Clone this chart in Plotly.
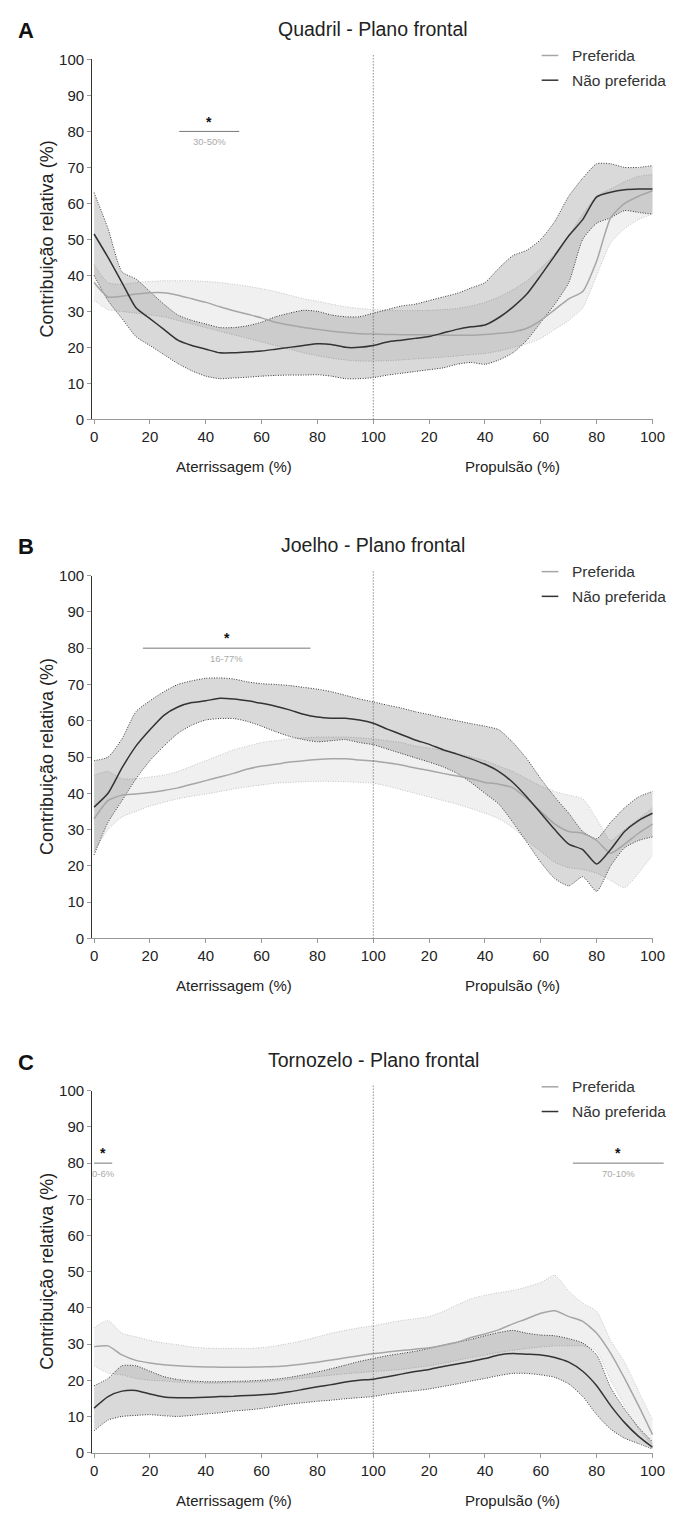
import plotly.graph_objects as go

W, H = 682, 1519
FONT = "Liberation Sans, Arial, Helvetica, sans-serif"

# ---------------- data ----------------
X = list(range(0, 201, 5))  # 0-100 landing, 100-200 propulsion
X_TICKVALS = list(range(0, 201, 20))
X_TICKTEXT = ["0", "20", "40", "60", "80", "100", "20", "40", "60", "80", "100"]
Y_TICKVALS = list(range(0, 101, 10))

SERIES = ["Preferida", "Não preferida"]
TITLES = ["Quadril - Plano frontal", "Joelho - Plano frontal", "Tornozelo - Plano frontal"]
LETTERS = ["A", "B", "C"]
PHASES = ["Aterrissagem (%)", "Propulsão (%)"]
Y_TITLE = "Contribuição relativa (%)"

# Panel A - Quadril
A_PREF_MEAN = [38, 34, 34.2, 34.8, 35.2, 35.2, 34.5, 33.5, 32.5, 31.3, 30.2, 29.2, 28.2, 27, 26.2, 25.5, 25,
               24.5, 24.1, 23.8, 23.7, 23.6, 23.5, 23.5, 23.5, 23.4, 23.4, 23.4, 23.6, 23.9, 24.3, 25.3,
               27.5, 30.5, 33.5, 35.5, 44, 56, 60, 62, 63.5]
A_PREF_UP = [43, 38, 37.5, 38, 38.3, 38.5, 38.5, 38.5, 38.3, 38, 37.5, 37, 36.3, 35.5, 34.5, 33.5, 32.8,
             32, 31.3, 30.8, 30.5, 30.3, 30.2, 30.2, 30.3, 30.5, 30.8, 31.5, 32.5, 34, 36, 38.5, 42, 46,
             51, 57, 62, 64, 66, 67.5, 68]
A_PREF_LO = [33, 30.5, 30, 29.5, 29, 28.5, 27.5, 26.5, 25.5, 24.5, 23.5, 22.5, 21.5, 20.5, 19.5, 18.5,
             17.7, 17, 16.5, 16.2, 16.2, 16.3, 16.5, 16.8, 17, 17.3, 17.6, 18, 18.3, 19, 20, 21, 22.5,
             25, 27.5, 31, 40, 49, 53, 55.5, 57]
A_NAO_MEAN = [51.5, 45, 38, 31, 28, 25, 22, 20.5, 19.5, 18.5, 18.5, 18.7, 19, 19.5, 20, 20.5, 21, 20.8,
              20, 20, 20.5, 21.5, 22, 22.5, 23, 24, 25, 25.7, 26.2, 28.3, 31.2, 34.8, 40, 45.5, 51,
              55.5, 61.8, 63.1, 63.8, 64, 64]
A_NAO_UP = [63, 53, 41, 39, 35.5, 32, 29, 27.5, 26.5, 25.5, 25.5, 26, 27, 28.5, 29.5, 30.3, 30, 29,
            28.5, 28.5, 29.5, 30.5, 31.5, 32, 33, 34, 35, 36.5, 38, 42, 45.5, 47, 50, 55, 62, 67, 71,
            71, 70, 70, 70.5]
A_NAO_LO = [40, 33, 28, 23, 20.5, 18, 15.5, 13.5, 12, 11.3, 11.5, 11.7, 12, 12.2, 12.3, 12.3, 12.4, 12,
            11.3, 11.3, 11.6, 12.3, 12.8, 13.3, 13.8, 14.3, 15.3, 15.8, 15.3, 16.5, 18.5, 22, 27, 32,
            38, 50, 54.5, 56, 58, 57.5, 57]

# Panel B - Joelho
B_PREF_MEAN = [33, 38, 39.5, 39.8, 40.2, 40.8, 41.5, 42.5, 43.5, 44.5, 45.5, 46.7, 47.5, 48, 48.6, 49,
               49.3, 49.5, 49.5, 49.2, 48.9, 48.4, 47.8, 47, 46.3, 45.5, 44.8, 44, 43, 42.5, 41.5,
               38.5, 35, 31.5, 29.5, 29, 27, 23.5, 26, 29, 31.5]
B_PREF_UP = [45, 46, 44, 44, 44.5, 45, 46, 47.5, 49, 50.5, 52, 53, 54, 54.5, 55, 55.3, 55.5, 55.5,
             55.5, 55.3, 55, 54.5, 54, 53, 52.5, 51.8, 51, 50, 49, 47.5, 46, 44, 42, 40.5, 39.5,
             38.5, 33, 27, 30, 33, 36]
B_PREF_LO = [24, 30, 33.5, 35, 36.5, 37.5, 38.5, 39.2, 39.8, 40.5, 41.2, 41.8, 42.3, 42.8, 43, 43.2,
             43.3, 43.3, 43.2, 43, 42.8, 42, 41, 40, 39, 38, 37, 35.8, 34.5, 33, 30.5, 27, 24, 21,
             19.5, 19, 18, 16, 14, 18, 23]
B_NAO_MEAN = [36.2, 40, 47, 53, 57.5, 61.5, 63.8, 65, 65.5, 66.2, 66, 65.5, 64.8, 64, 63, 61.8, 61,
              60.7, 60.7, 60.2, 59.3, 57.7, 56.2, 54.7, 53.5, 52, 50.8, 49.5, 48, 46, 43, 39, 34.5,
              30, 26, 24.5, 20.5, 24.5, 29.5, 32.5, 34.5]
B_NAO_UP = [49, 50, 55, 62.5, 65.5, 68, 70, 71, 71.7, 71.8, 71.5, 70.7, 70.2, 70, 69.7, 69.2, 68.7,
            68, 67, 66, 65.2, 64.3, 63.5, 62.5, 61.7, 60.8, 60, 59.2, 58.5, 57.5, 54, 49.5, 44, 39,
            34.5, 29.5, 27.5, 32, 36, 39, 40.5]
B_NAO_LO = [23, 32, 38, 44, 49, 53, 56.5, 58.8, 60.2, 60.6, 60.6, 59.8, 58.5, 57, 55.7, 54.8, 54.2,
            54.5, 54.8, 54, 53.4, 52.2, 51, 49.8, 48.6, 47.3, 45.5, 43, 40, 37, 32, 26.5, 21, 16.5,
            14.5, 17, 13, 20, 25, 27, 28]

# Panel C - Tornozelo
C_PREF_MEAN = [29.3, 29.5, 27, 25.5, 24.8, 24.3, 24, 23.8, 23.7, 23.6, 23.6, 23.6, 23.7, 23.8, 24.1,
               24.5, 25, 25.6, 26.2, 26.8, 27.4, 27.8, 28.2, 28.6, 29, 29.7, 30.5, 31.8, 32.8, 34,
               35.6, 37, 38.5, 39.2, 37.6, 36.3, 33, 27.5, 20.5, 13, 5]
C_PREF_UP = [34.5, 36.5, 33, 32, 31, 30.3, 29.8, 29.2, 28.9, 28.8, 28.8, 28.8, 29, 29.5, 30.2, 31, 32,
             33, 33.8, 34.5, 35.1, 35.8, 36.5, 37, 37.6, 39, 40.8, 42.5, 43.5, 44.2, 44.8, 45.8, 47,
             49, 44.6, 41.3, 39, 31, 25, 17, 9]
C_PREF_LO = [24, 22, 21.5, 20.5, 20, 19.8, 19.5, 19.3, 19.2, 19.2, 19.3, 19.4, 19.5, 19.8, 20.2, 20.6,
             21, 21.4, 21.8, 22.1, 22.4, 22.7, 23, 23.5, 24, 24.7, 25.5, 26.3, 27, 27.7, 28.3, 28.8,
             29.2, 29.5, 29.5, 29.5, 28, 20, 13, 6.5, 2]
C_NAO_MEAN = [12.3, 15.5, 17, 17.2, 16.2, 15.4, 15.2, 15.2, 15.3, 15.5, 15.6, 15.8, 16, 16.3, 16.8,
              17.5, 18.2, 18.8, 19.5, 20, 20.3, 21, 21.7, 22.4, 23, 23.8, 24.5, 25.2, 26, 27, 27.4,
              27.2, 27, 26.3, 25, 22.5, 18.5, 13, 8.3, 4.5, 1.5]
C_NAO_UP = [18.5, 20.5, 24, 24, 22.5, 21, 20.2, 19.8, 19.6, 19.6, 19.7, 19.8, 20, 20.3, 20.8, 21.5,
            22.3, 23.2, 24.2, 25.2, 26, 26.8, 27.4, 28, 28.8, 29.7, 30.5, 31.3, 32.3, 33.2, 33.8, 33,
            32.5, 32.3, 31.5, 30.3, 27, 18, 12, 7, 3]
C_NAO_LO = [6, 9, 10, 10.3, 10.5, 10.2, 10, 10.3, 10.7, 11, 11.5, 11.8, 12.2, 12.8, 13.4, 13.8, 14.2,
            14.5, 14.9, 15.2, 15.5, 16.2, 16.7, 17.1, 17.6, 18.3, 19, 19.8, 20.5, 21.3, 21.9, 21.9,
            21.5, 20.8, 19, 15.5, 10.5, 6.5, 4, 2.5, 1]

# significant intervals (start, end, label) per panel
SIG_A = [(30.5, 52, "30-50%")]
SIG_B = [(17.5, 77.5, "16-77%")]
SIG_C = [(0, 6.5, "0-6%"), (171.5, 204, "70-10%")]
SIG_LEVEL = 80

PANELS = [
    dict(pref=(A_PREF_MEAN, A_PREF_UP, A_PREF_LO), nao=(A_NAO_MEAN, A_NAO_UP, A_NAO_LO), sig=SIG_A),
    dict(pref=(B_PREF_MEAN, B_PREF_UP, B_PREF_LO), nao=(B_NAO_MEAN, B_NAO_UP, B_NAO_LO), sig=SIG_B),
    dict(pref=(C_PREF_MEAN, C_PREF_UP, C_PREF_LO), nao=(C_NAO_MEAN, C_NAO_UP, C_NAO_LO), sig=SIG_C),
]

# ---------------- style / geometry ----------------
PIX_TOP = [51, 573, 1094]   # pixel row of y=100
PIX_BOT = [415, 940, 1460]  # pixel row of y=0
X_PIX0, X_PIX1 = 92, 665
X_RANGE = [-0.7, 200.3]

PREF_LINE = "#a6a6a6"
NAO_LINE = "#333333"
PREF_FILL = "rgba(0,0,0,0.06)"
NAO_FILL = "rgba(0,0,0,0.15)"
PREF_EDGE = "#c4c4c4"
NAO_EDGE = "#3a3a3a"
EDGE_DASH = "1px,1.5px"


def xp(x):
    return (X_PIX0 + (x - X_RANGE[0]) * (X_PIX1 - X_PIX0) / (X_RANGE[1] - X_RANGE[0])) / W


def yp(pix):
    return 1 - pix / H


def ypix(i, y):
    return PIX_BOT[i] - y * (PIX_BOT[i] - PIX_TOP[i]) / 100.0


fig = go.Figure()
shapes, annotations = [], []

for i, p in enumerate(PANELS):
    xa = "x" if i == 0 else f"x{i + 1}"
    ya = "y" if i == 0 else f"y{i + 1}"
    for (mean, up, lo), edge, fill in ((p["pref"], PREF_EDGE, PREF_FILL), (p["nao"], NAO_EDGE, NAO_FILL)):
        fig.add_trace(go.Scatter(x=X, y=lo, mode="lines", xaxis=xa, yaxis=ya, showlegend=False,
                                 hoverinfo="skip",
                                 line=dict(color=edge, width=1, dash=EDGE_DASH, shape="spline", smoothing=0.6)))
        fig.add_trace(go.Scatter(x=X, y=up, mode="lines", xaxis=xa, yaxis=ya, showlegend=False,
                                 hoverinfo="skip", fill="tonexty", fillcolor=fill,
                                 line=dict(color=edge, width=1, dash=EDGE_DASH, shape="spline", smoothing=0.6)))
    for (mean, up, lo), col, name in ((p["pref"], PREF_LINE, SERIES[0]), (p["nao"], NAO_LINE, SERIES[1])):
        fig.add_trace(go.Scatter(x=X, y=mean, mode="lines", xaxis=xa, yaxis=ya, showlegend=False,
                                 name=name, line=dict(color=col, width=1.5, shape="spline", smoothing=0.6)))

    sfx = "" if i == 0 else str(i + 1)
    tickfont = dict(family=FONT, size=15, color="#222")
    fig.update_layout(**{
        f"xaxis{sfx}": dict(domain=[X_PIX0 / W, X_PIX1 / W], range=X_RANGE, anchor=ya,
                            tickmode="array", tickvals=X_TICKVALS, ticktext=X_TICKTEXT,
                            ticks="outside", ticklen=4, tickcolor="#999", showline=True,
                            linecolor="#999", linewidth=1, showgrid=False, zeroline=False,
                            tickfont=tickfont, fixedrange=True),
        f"yaxis{sfx}": dict(domain=[yp(PIX_BOT[i]), yp(PIX_TOP[i])], range=[0, 100], anchor=xa,
                            tickmode="array", tickvals=Y_TICKVALS, ticks="outside", ticklen=4,
                            tickcolor="#999", showline=True, linecolor="#333", linewidth=1,
                            showgrid=False, zeroline=False, tickfont=tickfont, fixedrange=True),
    })

    top, bot = PIX_TOP[i], PIX_BOT[i]
    # dotted separator between phases
    shapes.append(dict(type="line", xref="paper", yref="paper", x0=xp(100), x1=xp(100),
                       y0=yp(bot), y1=yp(top - 6), line=dict(color="#555", width=1, dash="1px,2px")))
    # title & letter
    annotations.append(dict(text=TITLES[i], x=xp(100), y=yp(top - 31), xref="paper", yref="paper",
                            showarrow=False, xanchor="center", yanchor="middle",
                            font=dict(family=FONT, size=19.5, color="#222")))
    annotations.append(dict(text=f"<b>{LETTERS[i]}</b>", x=24 / W, y=yp(top - 29), xref="paper",
                            yref="paper", showarrow=False, xanchor="center", yanchor="middle",
                            font=dict(family=FONT, size=22, color="#111")))
    # legend
    for k, (name, col) in enumerate(((SERIES[0], PREF_LINE), (SERIES[1], NAO_LINE))):
        ly = top - 4 + 25 * k
        shapes.append(dict(type="line", xref="paper", yref="paper", x0=551 / W, x1=568 / W,
                           y0=yp(ly), y1=yp(ly), line=dict(color=col, width=1.5)))
        annotations.append(dict(text=name, x=580 / W, y=yp(ly), xref="paper", yref="paper",
                                showarrow=False, xanchor="left", yanchor="middle",
                                font=dict(family=FONT, size=15.5, color="#333")))
    # phase titles
    for k, ph in enumerate(PHASES):
        annotations.append(dict(text=ph, x=xp(50 + 100 * k), y=yp(bot + 48), xref="paper",
                                yref="paper", showarrow=False, xanchor="center", yanchor="middle",
                                font=dict(family=FONT, size=15, color="#222")))
    # y title
    annotations.append(dict(text=Y_TITLE, x=46 / W, y=yp((top + bot) / 2), xref="paper",
                            yref="paper", showarrow=False, textangle=-90, xanchor="center",
                            yanchor="middle", font=dict(family=FONT, size=18, color="#222")))
    # significance markers
    for a, b, lab in p["sig"]:
        lp = ypix(i, SIG_LEVEL)
        shapes.append(dict(type="line", xref="paper", yref="paper", x0=xp(a), x1=xp(b),
                           y0=yp(lp), y1=yp(lp), line=dict(color="#777", width=1)))
        mid = (a + b) / 2
        annotations.append(dict(text="<b>*</b>", x=xp(mid), y=yp(lp - 10), xref="paper", yref="paper",
                                showarrow=False, xanchor="center", yanchor="middle",
                                font=dict(family=FONT, size=14, color="#111")))
        annotations.append(dict(text=lab, x=xp(mid), y=yp(lp + 10), xref="paper", yref="paper",
                                showarrow=False, xanchor="center", yanchor="middle",
                                font=dict(family=FONT, size=9.5, color="#aaa")))

fig.update_layout(width=W, height=H, margin=dict(l=0, r=0, t=0, b=0),
                  paper_bgcolor="white", plot_bgcolor="white", showlegend=False,
                  shapes=shapes, annotations=annotations, font=dict(family=FONT))

fig.write_html("out.html")
